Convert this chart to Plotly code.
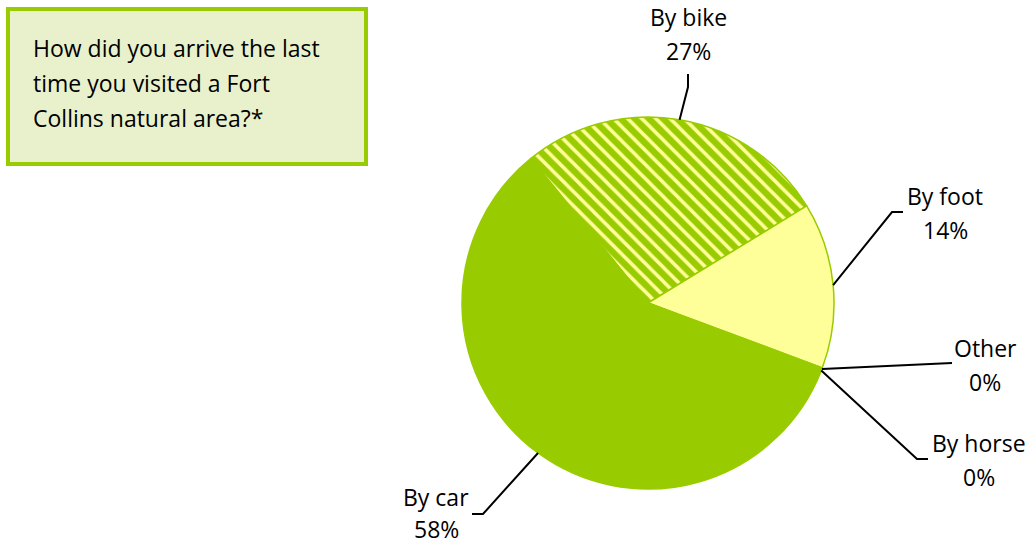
import math
import plotly.graph_objects as go

# ---------------- data ----------------
labels = ["By bike", "By foot", "Other", "By horse", "By car"]
values = [27.1, 14.4, 0.2, 0.1, 58.2]
slice_colors = ["#99CC00", "#FFFF99", "#99CC00", "#99CC00", "#99CC00"]
slice_patterns = ["\\", "", "", "", ""]
pattern_fg = ["#FFFF99", "#FFFF99", "#99CC00", "#99CC00", "#99CC00"]
title_lines = ["How did you arrive the last",
               "time you visited a Fort",
               "Collins natural area?*"]

# ---------------- layout constants (pixels) ----------------
W, H = 1028, 544
CX, CY, R = 648, 303, 186
ROT = -39
FONT = "Open Sans"
FSIZE = 23

# leader-line bend/end points and label line centres, per slice
label_layout = {
    "By bike":  dict(bend=(688, 87),  end=(688, 74),  tx=688, ty=(17, 51)),
    "By foot":  dict(bend=(892, 212), end=(903, 212), tx=945, ty=(196, 230)),
    "Other":    dict(bend=None,       end=(952, 363), tx=985, ty=(348, 382)),
    "By horse": dict(bend=(917, 459), end=(928, 459), tx=979, ty=(443, 477)),
    "By car":   dict(bend=(483, 514), end=(472, 514), tx=436, ty=(497, 529)),
}


def px(x):
    return x / W


def py(y):
    return 1 - y / H


fig = go.Figure()
fig.add_trace(go.Pie(
    labels=labels,
    values=values,
    sort=False,
    direction="clockwise",
    rotation=ROT,
    textinfo="none",
    hoverinfo="label+percent",
    showlegend=False,
    marker=dict(
        colors=slice_colors,
        line=dict(color="#99CC00", width=1.5),
        pattern=dict(shape=slice_patterns, fgcolor=pattern_fg,
                     bgcolor=slice_colors, fillmode="replace",
                     size=10, solidity=0.35),
    ),
    domain=dict(x=[px(CX - R), px(CX + R)], y=[py(CY + R), py(CY - R)]),
))

shapes = []
annotations = []

# title box
shapes.append(dict(type="rect", xref="paper", yref="paper",
                   x0=px(8), x1=px(366), y0=py(164), y1=py(9),
                   line=dict(color="#99CC00", width=4),
                   fillcolor="#E8F1CB", layer="below"))
for i, line in enumerate(title_lines):
    annotations.append(dict(xref="paper", yref="paper", x=px(31), y=py(48 + 35 * i),
                            xanchor="left", yanchor="middle", showarrow=False,
                            text=line, font=dict(family=FONT, size=FSIZE, color="black")))

# labels with leader lines, anchored on each slice's mid angle
total = sum(values)
cum = 0.0
for lab, v in zip(labels, values):
    mid = math.radians(ROT + 360.0 * (cum + v / 2) / total)
    cum += v
    ex, ey = CX + R * math.sin(mid), CY - R * math.cos(mid)
    cfg = label_layout[lab]
    pts = [(ex, ey)]
    if cfg["bend"] is not None:
        pts.append(cfg["bend"])
    pts.append(cfg["end"])
    path = "M " + " L ".join(f"{px(x):.5f},{py(y):.5f}" for x, y in pts)
    shapes.append(dict(type="path", xref="paper", yref="paper", path=path,
                       line=dict(color="black", width=2)))
    pct = f"{round(100 * v / total):d}%"
    for txt, ty in zip((lab, pct), cfg["ty"]):
        annotations.append(dict(xref="paper", yref="paper", x=px(cfg["tx"]), y=py(ty),
                                xanchor="center", yanchor="middle", showarrow=False,
                                text=txt, font=dict(family=FONT, size=FSIZE, color="black")))

fig.update_layout(
    width=W, height=H,
    margin=dict(l=0, r=0, t=0, b=0),
    paper_bgcolor="white",
    plot_bgcolor="white",
    shapes=shapes,
    annotations=annotations,
)

fig.write_html("out.html",
               config={"displayModeBar": False},
               post_script="document.body.style.margin='0';"
                           "document.body.style.overflow='hidden';")
